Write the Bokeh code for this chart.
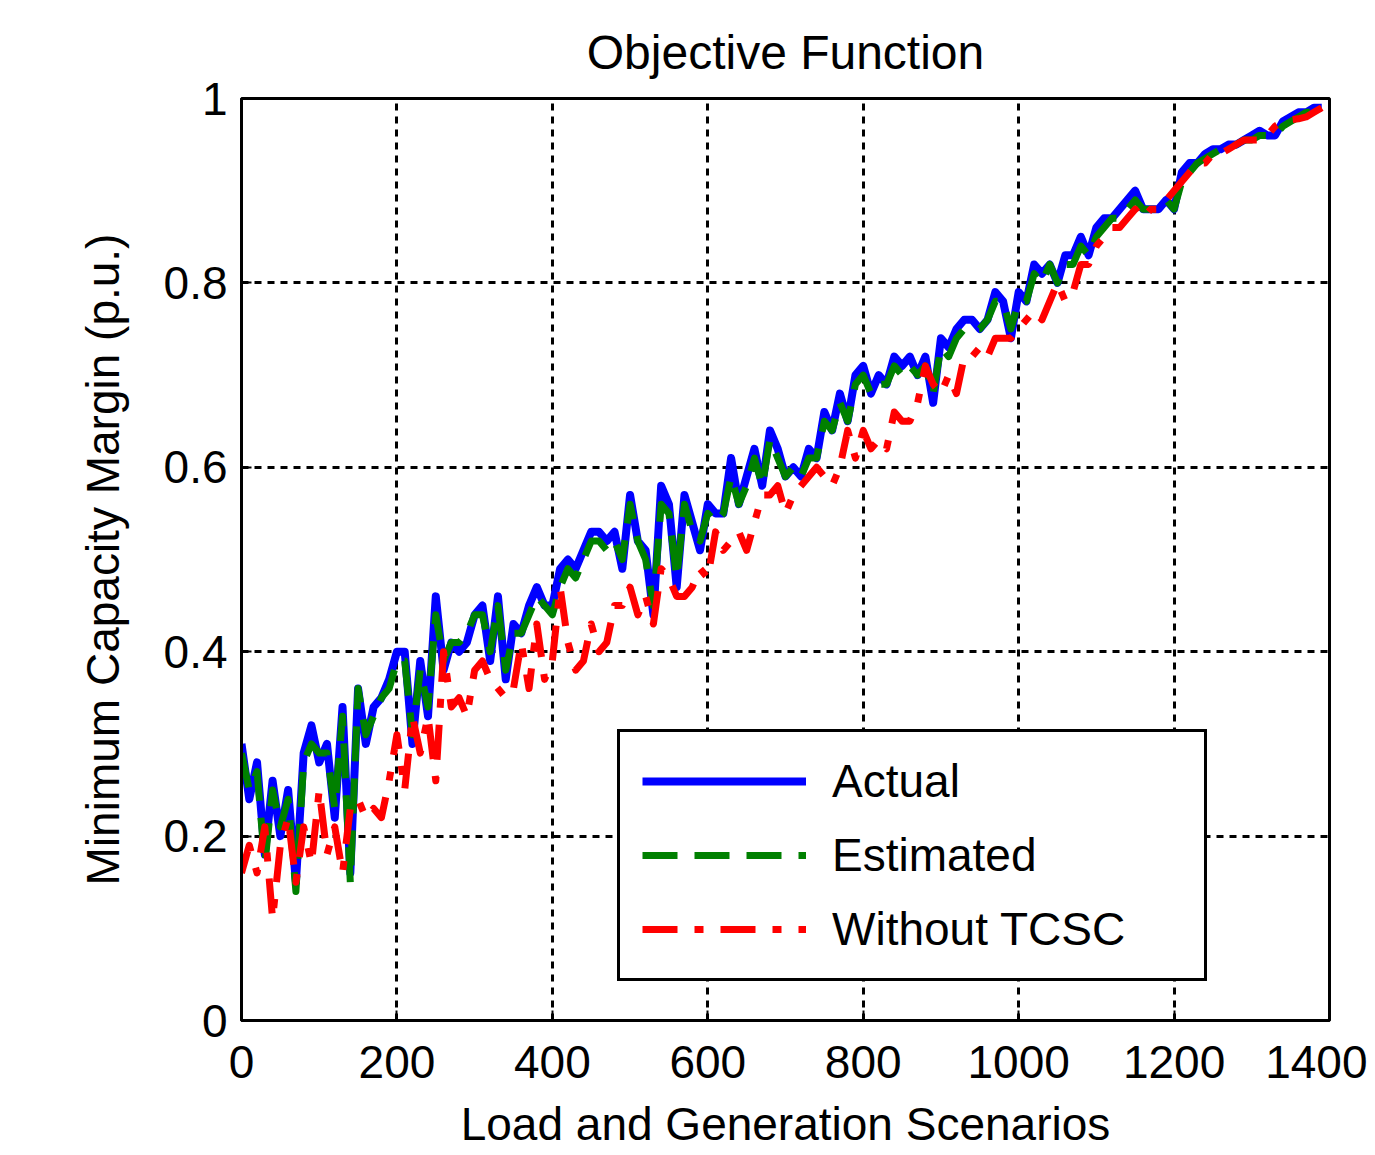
from bokeh.plotting import figure
from bokeh.models import Range1d, FixedTicker, Legend, LegendItem, Title
from bokeh.embed import file_html
from bokeh.resources import INLINE

scenarios = list(range(0, 1400, 10))

actual = [0.30, 0.24, 0.28, 0.18, 0.26, 0.20, 0.25, 0.15, 0.29, 0.32,
          0.28, 0.30, 0.22, 0.34, 0.16, 0.36, 0.30, 0.34, 0.35, 0.37,
          0.40, 0.40, 0.30, 0.39, 0.33, 0.46, 0.38, 0.41, 0.40, 0.41,
          0.44, 0.45, 0.39, 0.46, 0.37, 0.43, 0.42, 0.45, 0.47, 0.45,
          0.45, 0.49, 0.50, 0.49, 0.51, 0.53, 0.53, 0.52, 0.53, 0.49,
          0.57, 0.52, 0.51, 0.44, 0.58, 0.56, 0.47, 0.57, 0.54, 0.51,
          0.56, 0.55, 0.55, 0.61, 0.56, 0.59, 0.62, 0.58, 0.64, 0.62,
          0.59, 0.60, 0.59, 0.62, 0.61, 0.66, 0.64, 0.68, 0.65, 0.70,
          0.71, 0.68, 0.70, 0.69, 0.72, 0.71, 0.72, 0.70, 0.72, 0.67,
          0.74, 0.73, 0.75, 0.76, 0.76, 0.75, 0.76, 0.79, 0.78, 0.74,
          0.79, 0.78, 0.82, 0.81, 0.82, 0.80, 0.83, 0.83, 0.85, 0.83,
          0.86, 0.87, 0.87, 0.88, 0.89, 0.90, 0.88, 0.88, 0.88, 0.89,
          0.88, 0.92, 0.93, 0.93, 0.94, 0.945, 0.945, 0.95, 0.95, 0.955,
          0.96, 0.965, 0.96, 0.96, 0.975, 0.98, 0.985, 0.985, 0.99, 0.99]

estimated = [0.29, 0.25, 0.27, 0.17, 0.25, 0.21, 0.24, 0.14, 0.28, 0.30,
             0.29, 0.29, 0.23, 0.33, 0.15, 0.36, 0.31, 0.33, 0.35, 0.36,
             0.39, 0.39, 0.31, 0.38, 0.34, 0.44, 0.39, 0.41, 0.41, 0.42,
             0.44, 0.44, 0.40, 0.45, 0.38, 0.42, 0.42, 0.44, 0.46, 0.45,
             0.44, 0.47, 0.49, 0.48, 0.50, 0.52, 0.52, 0.51, 0.52, 0.50,
             0.56, 0.52, 0.50, 0.45, 0.56, 0.55, 0.48, 0.56, 0.53, 0.52,
             0.55, 0.54, 0.55, 0.59, 0.56, 0.58, 0.61, 0.58, 0.63, 0.61,
             0.59, 0.60, 0.59, 0.61, 0.61, 0.65, 0.64, 0.67, 0.65, 0.69,
             0.70, 0.68, 0.69, 0.69, 0.71, 0.70, 0.71, 0.70, 0.71, 0.68,
             0.73, 0.72, 0.74, 0.75, 0.75, 0.75, 0.76, 0.78, 0.78, 0.75,
             0.78, 0.78, 0.81, 0.80, 0.82, 0.80, 0.82, 0.82, 0.84, 0.83,
             0.85, 0.86, 0.87, 0.87, 0.88, 0.89, 0.88, 0.88, 0.88, 0.89,
             0.88, 0.91, 0.92, 0.93, 0.935, 0.94, 0.945, 0.945, 0.95, 0.955,
             0.955, 0.96, 0.96, 0.96, 0.97, 0.975, 0.98, 0.985, 0.985, 0.99]

without_tcsc = [0.16, 0.19, 0.16, 0.21, 0.11, 0.19, 0.22, 0.15, 0.21, 0.17,
                0.25, 0.18, 0.21, 0.16, 0.23, 0.24, 0.22, 0.23, 0.22, 0.26,
                0.31, 0.25, 0.33, 0.29, 0.33, 0.26, 0.40, 0.34, 0.35, 0.33,
                0.38, 0.39, 0.37, 0.36, 0.35, 0.36, 0.41, 0.36, 0.43, 0.37,
                0.39, 0.47, 0.41, 0.38, 0.39, 0.43, 0.40, 0.41, 0.45, 0.45,
                0.47, 0.44, 0.46, 0.43, 0.49, 0.48, 0.46, 0.46, 0.47, 0.49,
                0.48, 0.53, 0.51, 0.52, 0.53, 0.51, 0.54, 0.57, 0.57, 0.58,
                0.55, 0.57, 0.58, 0.59, 0.60, 0.59, 0.58, 0.60, 0.64, 0.61,
                0.64, 0.62, 0.63, 0.62, 0.66, 0.65, 0.65, 0.67, 0.71, 0.69,
                0.68, 0.70, 0.68, 0.72, 0.72, 0.73, 0.72, 0.74, 0.74, 0.74,
                0.75, 0.76, 0.77, 0.76, 0.78, 0.80, 0.78, 0.79, 0.82, 0.82,
                0.84, 0.85, 0.86, 0.86, 0.87, 0.88, 0.87, 0.88, 0.88, 0.89,
                0.90, 0.91, 0.92, 0.93, 0.93, 0.94, 0.94, 0.945, 0.95, 0.955,
                0.955, 0.955, 0.96, 0.97, 0.975, 0.977, 0.978, 0.98, 0.985, 0.99]

x_ticks = [0, 200, 400, 600, 800, 1000, 1200, 1400]
y_ticks = [0, 0.2, 0.4, 0.6, 0.8, 1]

FONT = "Liberation Sans"
FS = "46px"

p = figure(width=1367, height=1153, output_backend="svg", toolbar_location=None,
           x_range=Range1d(0, 1400), y_range=Range1d(0, 1),
           min_border_left=241, min_border_right=38, min_border_top=98,
           min_border_bottom=133)
p.background_fill_color = "white"
p.border_fill_color = "white"
p.outline_line_color = "black"
p.outline_line_width = 3

t = Title(text="Objective Function", align="center", text_font=FONT,
          text_font_size="48px", text_font_style="normal", text_color="black",
          standoff=40)
p.add_layout(t, "above")

for ax in (p.xaxis[0], p.yaxis[0]):
    ax.axis_line_width = 3
    ax.axis_line_color = "black"
    ax.major_tick_in = 10
    ax.major_tick_out = 0
    ax.major_tick_line_width = 2
    ax.minor_tick_line_color = None
    ax.major_label_text_font = FONT
    ax.major_label_text_font_size = FS
    ax.major_label_text_color = "black"
    ax.axis_label_text_font = FONT
    ax.axis_label_text_font_size = FS
    ax.axis_label_text_font_style = "normal"
    ax.axis_label_text_color = "black"

p.xaxis.ticker = FixedTicker(ticks=x_ticks)
p.yaxis.ticker = FixedTicker(ticks=y_ticks)
p.xaxis.major_label_overrides = {t_: str(t_) for t_ in x_ticks}
p.yaxis.major_label_overrides = {t_: str(t_) for t_ in y_ticks}
p.xaxis.axis_label = "Load and Generation Scenarios"
p.yaxis.axis_label = "Minimum Capacity Margin (p.u.)"
p.xaxis.major_label_standoff = 25
p.xaxis.axis_label_standoff = 17
p.yaxis.major_label_standoff = 14
p.yaxis.axis_label_standoff = 32

for g in (p.xgrid[0], p.ygrid[0]):
    g.grid_line_color = "black"
    g.grid_line_width = 3
    g.grid_line_dash = "7 6"
    g.grid_line_alpha = 1.0

r1 = p.line(scenarios, actual, line_color="#0000FF", line_width=8, line_join="round")
r2 = p.line(scenarios, estimated, line_color="#008000", line_width=7,
            line_dash="35 17", line_join="round")
r3 = p.line(scenarios, without_tcsc, line_color="#FF0000", line_width=7,
            line_dash="35 17 9 17", line_join="round")

legend = Legend(items=[LegendItem(label="Actual", renderers=[r1]),
                       LegendItem(label="Estimated", renderers=[r2]),
                       LegendItem(label="Without TCSC", renderers=[r3])],
                location=(376, 39))
legend.label_text_font = FONT
legend.label_text_font_size = FS
legend.label_text_color = "black"
legend.glyph_width = 164
legend.glyph_height = 40
legend.label_standoff = 26
legend.label_width = 350
legend.label_height = 40
legend.padding = 22
legend.spacing = 20
legend.margin = 0
legend.border_line_color = "black"
legend.border_line_width = 3
legend.border_line_alpha = 1.0
legend.background_fill_color = "white"
legend.background_fill_alpha = 1.0
p.add_layout(legend, "center")

open("out.html", "w").write(file_html(p, INLINE))
